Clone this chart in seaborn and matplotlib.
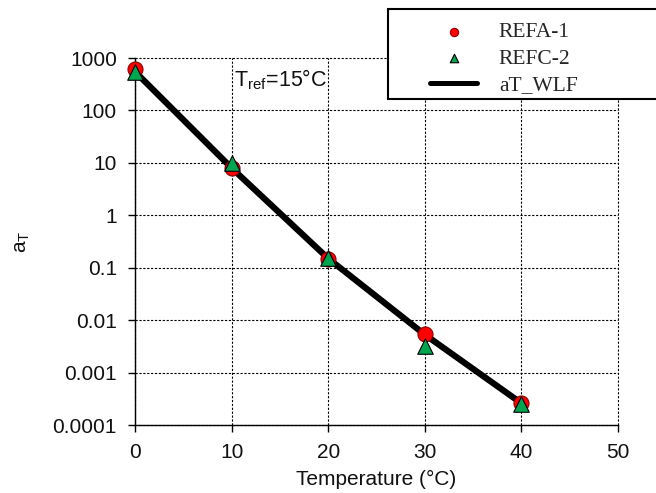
import numpy as np
import pandas as pd
import matplotlib
matplotlib.use("Agg")
import matplotlib.pyplot as plt
from matplotlib.patches import Rectangle
import seaborn as sns

temp = [0, 10, 20, 30, 40]
refa1 = [630, 7.9, 0.15, 0.0055, 0.00026]
refc2 = [550, 10.0, 0.155, 0.0032, 0.00025]

wlf_temp = [0, 10, 20, 30, 40]
wlf_at = [550, 8.0, 0.15, 0.0053, 0.00026]

sns.set_style("white")
plt.rcParams["font.family"] = ["Liberation Sans", "DejaVu Sans"]
plt.rcParams["mathtext.fontset"] = "custom"
plt.rcParams["mathtext.rm"] = "Liberation Sans"
plt.rcParams["mathtext.it"] = "Liberation Sans"

fig = plt.figure(figsize=(6.56, 4.93), dpi=100)
ax = fig.add_axes([0.2058, 0.1379, 0.7363, 0.7444])

df_a = pd.DataFrame({"T": temp, "aT": refa1})
df_c = pd.DataFrame({"T": temp, "aT": refc2})
df_w = pd.DataFrame({"T": wlf_temp, "aT": wlf_at})

sns.lineplot(data=df_w, x="T", y="aT", ax=ax, color="black", lw=4.5,
             label="aT_WLF", zorder=2)
sns.scatterplot(data=df_a, x="T", y="aT", ax=ax, marker="o", s=117,
                color="#ff0000", edgecolor="#8b0000", linewidth=0.8,
                label="REFA-1", zorder=3, clip_on=False)
sns.scatterplot(data=df_c, x="T", y="aT", ax=ax, marker="^", s=125,
                color="#00a550", edgecolor="black", linewidth=0.8,
                label="REFC-2", zorder=4, clip_on=False)

ax.set_yscale("log")
ax.set_xlim(0, 50)
ax.set_ylim(0.0001, 1000)
ax.set_xticks([0, 10, 20, 30, 40, 50])
yt = [0.0001, 0.001, 0.01, 0.1, 1, 10, 100, 1000]
ax.set_yticks(yt)
ax.set_yticklabels(["0.0001", "0.001", "0.01", "0.1", "1", "10", "100", "1000"])
ax.minorticks_off()
ax.tick_params(axis="both", labelsize=15, direction="out", width=1,
               color="black", bottom=True, left=True, labelcolor="#111111")
ax.tick_params(axis="x", length=5, pad=8)
ax.tick_params(axis="y", length=5, pad=8)
ax.grid(True, which="major", linestyle=(0, (2, 1.5)), color="black", lw=0.8)
for gl in ax.get_xgridlines() + ax.get_ygridlines():
    gl.set_clip_on(False)
for s in ["top", "right"]:
    ax.spines[s].set_visible(False)
for s in ["left", "bottom"]:
    ax.spines[s].set_color("black")
    ax.spines[s].set_linewidth(1.0)

ax.set_xlabel("Temperature (°C)", fontsize=15, labelpad=6, color="#111111")
ax.set_ylabel("a$_\\mathrm{T}$", fontsize=15, color="#111111")
ax.yaxis.set_label_coords(-0.214, 0.5)

ax.text(10.24, 283, "T$_\\mathrm{ref}$=15°C", fontsize=15.5, va="baseline",
        ha="left", color="#111111")

h, l = ax.get_legend_handles_labels()
order = [l.index("REFA-1"), l.index("REFC-2"), l.index("aT_WLF")]
ax.legend_.remove()

# legend box runs off the right edge like the original
fig.patches.append(Rectangle((388 / 656, 1 - 99 / 493), 0.45, 90 / 493,
                             transform=fig.transFigure, facecolor="white",
                             edgecolor="black", lw=1.5, zorder=5))
leg = fig.legend([h[i] for i in order], [l[i] for i in order],
                 loc="upper left", bbox_to_anchor=(430 / 656, 0.955),
                 frameon=False, prop={"family": "Liberation Serif", "size": 15.5},
                 labelspacing=0.3, handlelength=2.2, handletextpad=1.0,
                 borderpad=0, borderaxespad=0, markerscale=0.55)
leg.set_zorder(6)
for lh in leg.legend_handles:
    if hasattr(lh, "set_linewidth") and lh.get_label() == "aT_WLF":
        lh.set_linewidth(3.6)

fig.savefig("out.png", dpi=100)
